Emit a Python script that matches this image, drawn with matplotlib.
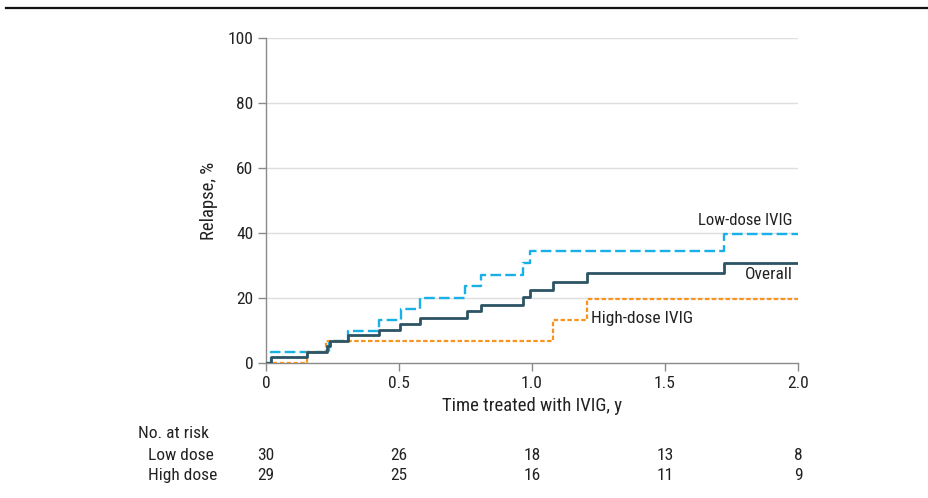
import matplotlib.pyplot as plt
from matplotlib.lines import Line2D
from matplotlib import font_manager

# cumulative relapse, % (step times in years)
overall_t = [0, 0.02, 0.155, 0.228, 0.24, 0.307, 0.425, 0.504, 0.58, 0.754, 0.81, 0.967, 0.993, 1.08, 1.206, 1.72, 2.0]
overall_v = [0, 1.7, 3.4, 5.1, 6.8, 8.5, 10.2, 11.9, 13.8, 16.1, 17.9, 20.3, 22.5, 25.0, 27.8, 30.9, 30.9]

low_t = [0, 0.02, 0.238, 0.307, 0.425, 0.506, 0.58, 0.75, 0.81, 0.967, 0.993, 1.72, 2.0]
low_v = [0, 3.3, 6.7, 10.0, 13.3, 16.7, 20.0, 23.6, 27.1, 30.7, 34.5, 39.6, 39.6]

high_t = [0, 0.155, 0.225, 1.08, 1.206, 2.0]
high_v = [0, 3.4, 6.9, 13.2, 19.8, 19.8]

risk_times = [0, 0.5, 1.0, 1.5, 2.0]
risk_low = [30, 26, 18, 13, 8]
risk_high = [29, 25, 16, 11, 9]

names = {f.name for f in font_manager.fontManager.ttflist}
fam = 'DejaVu Sans'
for cand in ['Roboto Condensed', 'Liberation Sans Narrow', 'Open Sans Condensed', 'Lato']:
    if cand in names:
        fam = cand
        break
plt.rcParams['font.family'] = [fam, 'DejaVu Sans']
k = 1.0 if fam != 'DejaVu Sans' else 0.9

c_overall = '#2d5465'
c_low = '#17b1e8'
c_high = '#f7941d'
grey = '#8a8a8a'
txt = '#222222'

fig = plt.figure(figsize=(9.29, 4.98), dpi=100)
ax = fig.add_axes([266 / 929, 1 - 363 / 498, 532 / 929, 325 / 498])

ax.step(low_t, low_v, where='post', color=c_low, lw=1.7, ls=(0, (4.5, 1.8)), zorder=3)
ax.step(high_t, high_v, where='post', color=c_high, lw=1.6, ls=(0, (2, 1.1)), zorder=3)
ax.step(overall_t, overall_v, where='post', color=c_overall, lw=2.0, zorder=4)

ax.set_xlim(0, 2.0)
ax.set_ylim(0, 100)
ax.set_xticks(risk_times)
ax.set_xticklabels(['0', '0.5', '1.0', '1.5', '2.0'])
ax.set_yticks([0, 20, 40, 60, 80, 100])
for y in [20, 40, 60, 80, 100]:
    ax.axhline(y, color='#dedede', lw=1.0, zorder=1)

for s in ['top', 'right']:
    ax.spines[s].set_visible(False)
for s in ['left', 'bottom']:
    ax.spines[s].set_color(grey)
    ax.spines[s].set_linewidth(1.0)
ax.tick_params(axis='both', colors=grey, labelcolor=txt, length=6, width=1.0, labelsize=12.5 * k)
ax.tick_params(axis='y', pad=3)
ax.tick_params(axis='x', pad=3)

ax.set_ylabel('Relapse, %', fontsize=13.5 * k, color=txt, labelpad=7)
ax.set_xlabel('Time treated with IVIG, y', fontsize=13.5 * k, color=txt, labelpad=5)

ax.text(1.98, 44, 'Low-dose IVIG', ha='right', va='center', fontsize=12 * k, color=txt)
ax.text(1.98, 27.1, 'Overall', ha='right', va='center', fontsize=12.5 * k, color=txt)
ax.text(1.222, 13.8, 'High-dose IVIG', ha='left', va='center', fontsize=12.5 * k, color=txt)

# number at risk table
tfs = 12.5 * k
fig.text(138 / 929, 1 - 433 / 498, 'No. at risk', ha='left', va='center', fontsize=tfs, color=txt)
fig.text(148 / 929, 1 - 455 / 498, 'Low dose', ha='left', va='center', fontsize=tfs, color=txt)
fig.text(148 / 929, 1 - 475 / 498, 'High dose', ha='left', va='center', fontsize=tfs, color=txt)
for t, lo, hi in zip(risk_times, risk_low, risk_high):
    xf = (266 + t * 266) / 929
    fig.text(xf, 1 - 455 / 498, str(lo), ha='center', va='center', fontsize=tfs, color=txt)
    fig.text(xf, 1 - 475 / 498, str(hi), ha='center', va='center', fontsize=tfs, color=txt)

fig.add_artist(Line2D([6 / 929, 1.0], [1 - 8 / 498, 1 - 8 / 498], color='#111111', lw=1.6, transform=fig.transFigure))

fig.savefig('out.png', dpi=100)
